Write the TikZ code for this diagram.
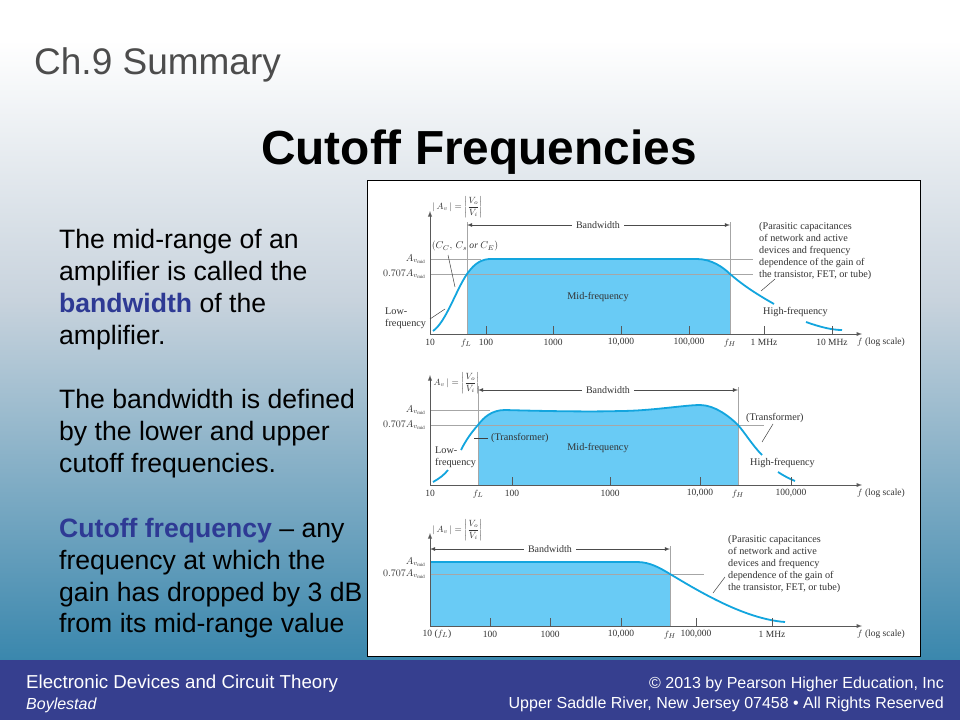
\documentclass[tikz,border=0pt]{standalone}
\usepackage{amsmath}
\usepackage{fontspec}
\setmainfont{Liberation Sans}
\newfontfamily\plotfont{Liberation Serif}
\usetikzlibrary{arrows,positioning,calc}
\definecolor{slideblue}{HTML}{363F8F}
\definecolor{keyblue}{HTML}{2E3A94}
\definecolor{curveblue}{HTML}{12A5DE}
\definecolor{areablue}{HTML}{69CBF5}
\definecolor{bgmiddle}{HTML}{C8D3DD}
\definecolor{bgbottom}{HTML}{3A87AD}
\tikzset{
guide/.style = {draw=black!35, line width=0.8pt},
axis/.style = {draw=black!65, line width=0.9pt, -latex},
curve/.style = {draw=curveblue, line width=1.8pt},
leader/.style = {draw=black!75, line width=0.5pt},
span/.style = {draw=black!70, line width=0.8pt, ->},
area/.style = {fill=areablue},
tick/.style = {draw=black!65, line width=0.6pt},
plottext/.style = {font=\plotfont\fontsize{10.2}{12}\selectfont, text=black!80, inner sep=0pt, align=left},
leveltext/.style = {plottext, font=\plotfont\fontsize{9.6}{12}\selectfont},
gaintext/.style = {plottext, font=\plotfont\fontsize{8.6}{10}\selectfont},
bandtext/.style = {plottext, fill=white, inner xsep=4pt, font=\plotfont\fontsize{10}{12}\selectfont},
ticklabel/.style = {font=\plotfont\fontsize{9.5}{11}\selectfont, text=black!80, inner sep=0pt},
bodytext/.style = {font=\fontsize{26.6}{31.8}\selectfont, text=black, inner sep=0pt, align=left, anchor=north west},
foottext/.style = {text=white, inner sep=0pt}
}
\newcommand{\gainlabel}{$|\,A_v\,| = \left|\dfrac{V_o}{V_i}\right|$}
\newcommand{\parasitic}{(Parasitic capacitances\\of network and active\\devices and frequency\\dependence of the gain of\\the transistor, FET, or tube)}
\begin{document}
\begin{tikzpicture}[x=1pt,y=-1pt,>=latex]
    \useasboundingbox (0,0) rectangle (960,720);
    % background
    \fill [white] (0,0) rectangle (960,40);
    \path [top color=white, bottom color=bgmiddle] (0,40) rectangle (960,300);
    \path [top color=bgmiddle, bottom color=bgbottom] (0,300) rectangle (960,660);
    \fill [slideblue] (0,660) rectangle (960,720);
    \draw [draw=black, fill=white, line width=0.8pt] (367.5,180.5) rectangle (920.5,656.5);
    % heading
    \node [inner sep=0pt, anchor=west, text=black!70, font=\fontsize{37}{42}\selectfont] (chapter) at (34,65) {Ch.9 Summary};
    \node [inner sep=0pt, text=black, font=\bfseries\fontsize{47.8}{54}\selectfont] (heading) at (479,152) {Cutoff Frequencies};
    % left text
    \node [bodytext] (intro) at (59,229.5) {The mid-range of an\\amplifier is called the\\{\bfseries\color{keyblue}bandwidth} of the\\amplifier.};
    \node [bodytext] (limits) at (59,389.5) {The bandwidth is defined\\by the lower and upper\\cutoff frequencies.};
    \node [bodytext] (cutoff) at (59,518) {{\bfseries\color{keyblue}Cutoff frequency} -- any\\frequency at which the\\gain has dropped by 3 dB\\from its mid-range value};
    % footer
    \node [foottext, anchor=west, font=\fontsize{18.7}{22}\selectfont] (book) at (26,684) {Electronic Devices and Circuit Theory};
    \node [foottext, anchor=west, font=\itshape\fontsize{16}{19}\selectfont] (authorname) at (26,705) {Boylestad};
    \node [foottext, anchor=east, font=\fontsize{16}{20}\selectfont] (copyline) at (944,684) {© 2013 by Pearson Higher Education, Inc};
    \node [foottext, anchor=east, font=\fontsize{16}{20}\selectfont] (rights) at (944,704) {Upper Saddle River, New Jersey 07458 • All Rights Reserved};

    % top plot
    \fill [area] (467,274) .. controls (472,267) and (478,260) .. (489,259) -- (697,259) .. controls (712,259) and (724,268) .. (730,274) -- (730,334) -- (467,334) -- cycle;
    \draw [guide] (430,259) -- (481,259) (705,259) -- (753,259);
    \draw [guide] (430,274) -- (753,274);
    \draw [guide] (467,222) -- (467,334);
    \draw [guide] (730,222) -- (730,334);
    \draw [curve] (433,331) .. controls (446,322) and (456,290) .. (467,274) .. controls (472,267) and (478,260) .. (489,259) -- (697,259) .. controls (712,259) and (724,268) .. (730,274) .. controls (745,287) and (760,296) .. (774,304);
    \draw [curve] (806,322) .. controls (820,327) and (832,330) .. (842,330);
    \coordinate (axisA) at (430,334);
    \draw [axis] (axisA) -- (430,211);
    \draw [axis] (axisA) -- (862,334);
    \foreach \x in {486,553,621,689,764,832} \draw [tick] (\x,334) -- (\x,326);
    \node [gaintext] (gainA) at (457.5,207) {\gainlabel};
    \node [bandtext] (bandA) at (598,225) {Bandwidth};
    \draw [span] (bandA) -- (467,225);
    \draw [span] (bandA) -- (730,225);
    \node [leveltext] (ccA) at (465,246) {$(C_C,\,C_s$ \textit{or} $C_E)$};
    \node [leveltext, anchor=east] (midA) at (426,259) {$A_{v_{\text{mid}}}$};
    \node [leveltext, anchor=east] (sevenA) at (426,274) {$0.707A_{v_{\text{mid}}}$};
    \node [plottext, anchor=west] (lowA) at (385,318) {Low-\\frequency};
    \node [plottext] (midfA) at (598,297) {Mid-frequency};
    \node [plottext, anchor=north west] (parA) at (759,222) {\parasitic};
    \node [plottext, anchor=west] (highA) at (763,312) {High-frequency};
    \coordinate (leadA) at (448,255);
    \draw [leader] (leadA) -- (455,287);
    \draw [leader] (430,319) -- (445,309);
    \draw [leader] (775,279) -- (761,291);
    \node [ticklabel] at (430,342) {10};
    \node [ticklabel] at (466,343) {$f_L$};
    \node [ticklabel] at (486,342) {100};
    \node [ticklabel] at (553,342) {1000};
    \node [ticklabel] at (621,342) {10,000};
    \node [ticklabel] at (689,342) {100,000};
    \node [ticklabel] at (730,343) {$f_H$};
    \node [ticklabel] at (764,342) {1 MHz};
    \node [ticklabel] at (832,342) {10 MHz};
    \node [ticklabel] at (881,342) {$f$ (log scale)};

    % middle plot
    \fill [area] (478,425) .. controls (484,417) and (492,410) .. (505,410) .. controls (540,411) and (590,412) .. (620,411) .. controls (650,411) and (685,405) .. (700,405) .. controls (715,405) and (730,417) .. (738,425) -- (738,485) -- (478,485) -- cycle;
    \draw [guide] (430,410) -- (490,410) (430,425) -- (764,425);
    \draw [guide] (478,386) -- (478,485);
    \draw [guide] (738,387) -- (738,485);
    \draw [curve] (433,482) .. controls (440,478) and (444,475) .. (448,470);
    \draw [curve] (461,450) .. controls (466,440) and (471,433) .. (478,425) .. controls (484,417) and (492,410) .. (505,410) .. controls (540,411) and (590,412) .. (620,411) .. controls (650,411) and (685,405) .. (700,405) .. controls (715,405) and (730,417) .. (738,425) .. controls (745,433) and (753,446) .. (762,455);
    \draw [curve] (778,472) .. controls (784,476) and (790,479) .. (795,481);
    \coordinate (axisB) at (430,485);
    \draw [axis] (axisB) -- (430,375);
    \draw [axis] (axisB) -- (862,485);
    \foreach \x in {512,610,700,791} \draw [tick] (\x,485) -- (\x,477);
    \node [gaintext] (gainB) at (454.5,383) {\gainlabel};
    \node [bandtext] (bandB) at (608,390) {Bandwidth};
    \draw [span] (bandB) -- (478,390);
    \draw [span] (bandB) -- (738,390);
    \node [leveltext, anchor=east] (midB) at (426,410) {$A_{v_{\text{mid}}}$};
    \node [leveltext, anchor=east] (sevenB) at (426,425) {$0.707A_{v_{\text{mid}}}$};
    \node [plottext, anchor=west] (lowB) at (435,457.5) {Low-\\frequency};
    \node [plottext, anchor=west] (transA) at (491,438) {(Transformer)};
    \draw [leader] ([xshift=-3pt]transA.west) -- (474,438);
    \node [plottext] (midfB) at (598,448) {Mid-frequency};
    \node [plottext, anchor=west] (transB) at (746,418) {(Transformer)};
    \node [plottext, anchor=west] (highB) at (750,463) {High-frequency};
    \draw [leader] (773,424) -- (762,442);
    \node [ticklabel] at (430,493) {10};
    \node [ticklabel] at (478,494) {$f_L$};
    \node [ticklabel] at (512,493) {100};
    \node [ticklabel] at (610,493) {1000};
    \node [ticklabel] at (700,493) {10,000};
    \node [ticklabel] at (738,494) {$f_H$};
    \node [ticklabel] at (791,493) {100,000};
    \node [ticklabel] at (881,493) {$f$ (log scale)};

    % bottom plot
    \fill [area] (430,562) -- (637,562) .. controls (650,562) and (660,568) .. (670,574) -- (670,626) -- (430,626) -- cycle;
    \draw [guide] (430,574) -- (704,574);
    \draw [guide] (670,546) -- (670,626);
    \draw [curve] (430,562) -- (637,562) .. controls (650,562) and (660,568) .. (670,574) .. controls (700,592) and (745,619) .. (785,622);
    \coordinate (axisC) at (430,626);
    \draw [axis] (axisC) -- (430,533);
    \draw [axis] (axisC) -- (862,626);
    \foreach \x in {490,550,621,696,772} \draw [tick] (\x,626) -- (\x,618);
    \node [gaintext] (gainC) at (457.5,530) {\gainlabel};
    \node [bandtext] (bandC) at (550,549) {Bandwidth};
    \draw [span] (bandC) -- (430,549);
    \draw [span] (bandC) -- (670,549);
    \node [leveltext, anchor=east] (midC) at (426,562) {$A_{v_{\text{mid}}}$};
    \node [leveltext, anchor=east] (sevenC) at (426,574) {$0.707A_{v_{\text{mid}}}$};
    \node [plottext, anchor=north west] (parC) at (728,535) {\parasitic};
    \draw [leader] (725,577) -- (713,593);
    \node [ticklabel] at (437,634) {10 ($f_L$)};
    \node [ticklabel] at (490,634) {100};
    \node [ticklabel] at (550,634) {1000};
    \node [ticklabel] at (621,634) {10,000};
    \node [ticklabel] at (670,635) {$f_H$};
    \node [ticklabel] at (696,634) {100,000};
    \node [ticklabel] at (772,634) {1 MHz};
    \node [ticklabel] at (881,634) {$f$ (log scale)};
\end{tikzpicture}
\end{document}
